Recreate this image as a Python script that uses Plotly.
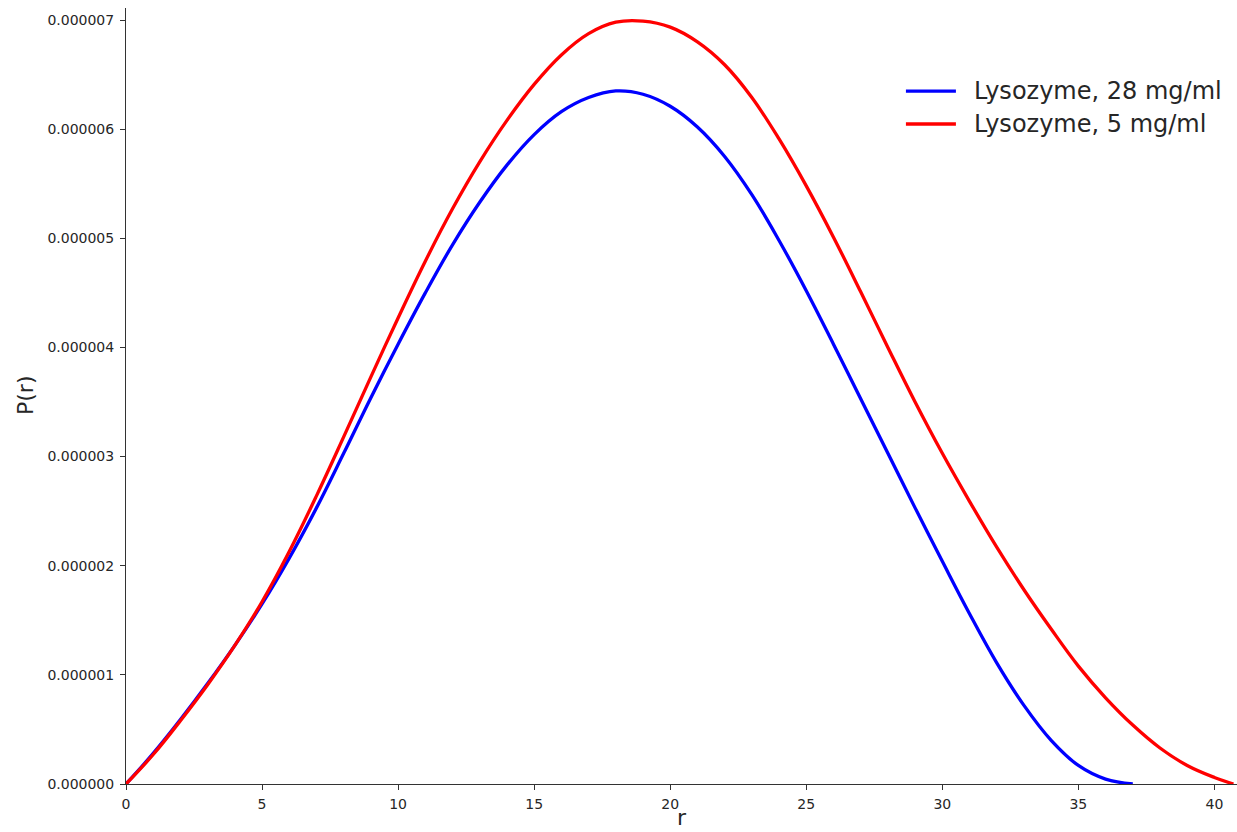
import numpy as np
import plotly.graph_objects as go

# Pair distance distribution P(r), values in units of 1e-6
r_28 = [0, 1, 2, 3, 4, 5, 6, 7, 8, 9, 10, 11, 12, 13, 14, 15, 16, 17, 18, 19,
        20, 21, 22, 23, 24, 25, 26, 27, 28, 29, 30, 31, 32, 33, 34, 35, 36, 37]
p_28 = [0, 0.28, 0.59, 0.92, 1.27, 1.65, 2.07, 2.53, 3.03, 3.54, 4.03, 4.50, 4.94,
        5.33, 5.67, 5.95, 6.16, 6.29, 6.35, 6.32, 6.21, 6.02, 5.75, 5.40, 4.98, 4.52,
        4.03, 3.53, 3.03, 2.53, 2.04, 1.56, 1.11, 0.72, 0.40, 0.17, 0.045, 0.0]

r_5 = [0, 1, 2, 3, 4, 5, 6, 7, 8, 9, 10, 11, 12, 13, 14, 15, 16, 17, 18, 19,
       20, 21, 22, 23, 24, 25, 26, 27, 28, 29, 30, 31, 32, 33, 34, 35, 36, 37, 38,
       39, 40, 40.7]
p_5 = [0, 0.27, 0.58, 0.91, 1.27, 1.67, 2.13, 2.64, 3.18, 3.73, 4.27, 4.79, 5.27,
       5.70, 6.08, 6.41, 6.68, 6.875, 6.98, 6.99, 6.935, 6.80, 6.59, 6.29, 5.91, 5.48,
       5.01, 4.51, 4.00, 3.50, 3.03, 2.59, 2.17, 1.78, 1.42, 1.08, 0.79, 0.54, 0.33,
       0.17, 0.06, 0.0]

series = [
    ("Lysozyme, 28 mg/ml", r_28, p_28, "#0000ff"),
    ("Lysozyme, 5 mg/ml", r_5, p_5, "#ff0000"),
]

y_ticks = [0, 1e-6, 2e-6, 3e-6, 4e-6, 5e-6, 6e-6, 7e-6]
y_tick_text = ["%.6f" % v for v in y_ticks]
x_ticks = [0, 5, 10, 15, 20, 25, 30, 35, 40]

text_color = "#262626"
fig = go.Figure()
for name, r, p, color in series:
    fig.add_trace(go.Scatter(
        x=r, y=np.array(p) * 1e-6, mode="lines", name=name, showlegend=False,
        line=dict(color=color, width=3.3, shape="spline", smoothing=1.1),
    ))

# legend drawn in paper coordinates: line sample + label per series
annotations = []
shapes = []
legend_x0, legend_x1, legend_text_x = 0.702, 0.747, 0.7615
legend_rows = [0.893, 0.8505]
for (name, _, _, color), ly in zip(series, legend_rows):
    shapes.append(dict(type="line", xref="paper", yref="paper",
                       x0=legend_x0, x1=legend_x1, y0=ly, y1=ly,
                       line=dict(color=color, width=3.3)))
    annotations.append(dict(text=name, xref="paper", yref="paper",
                            x=legend_text_x, y=ly, xanchor="left", yanchor="middle",
                            showarrow=False,
                            font=dict(size=24, color=text_color)))

annotations += [
    dict(text="r", xref="paper", yref="paper", x=0.5, y=-0.0619,
         xanchor="center", yanchor="bottom", showarrow=False,
         font=dict(size=22, color=text_color)),
    dict(text="P(r)", xref="paper", yref="paper", x=-0.0909, y=0.5,
         xanchor="center", yanchor="middle", textangle=-90, showarrow=False,
         font=dict(size=22, color=text_color)),
]

axis_font = dict(family="DejaVu Sans", size=14, color=text_color)
fig.update_layout(
    width=1237, height=832,
    margin=dict(l=126, r=0, t=8, b=48),
    paper_bgcolor="white", plot_bgcolor="white",
    font=dict(family="DejaVu Sans", color=text_color),
    showlegend=False,
    xaxis=dict(range=[0, 40.83], tickvals=x_ticks, ticks="outside", ticklen=5,
               tickcolor="#333", showline=True, linecolor="#333", linewidth=1,
               showgrid=False, zeroline=False, tickfont=axis_font,
               ticklabelstandoff=2),
    yaxis=dict(range=[0, 7.11e-6], tickvals=y_ticks, ticktext=y_tick_text,
               ticks="outside", ticklen=5, tickcolor="#333", showline=True,
               linecolor="#333", linewidth=1, showgrid=False, zeroline=False,
               tickfont=axis_font, ticklabelstandoff=3),
    shapes=shapes,
    annotations=annotations,
)

fig.write_html("out.html")
